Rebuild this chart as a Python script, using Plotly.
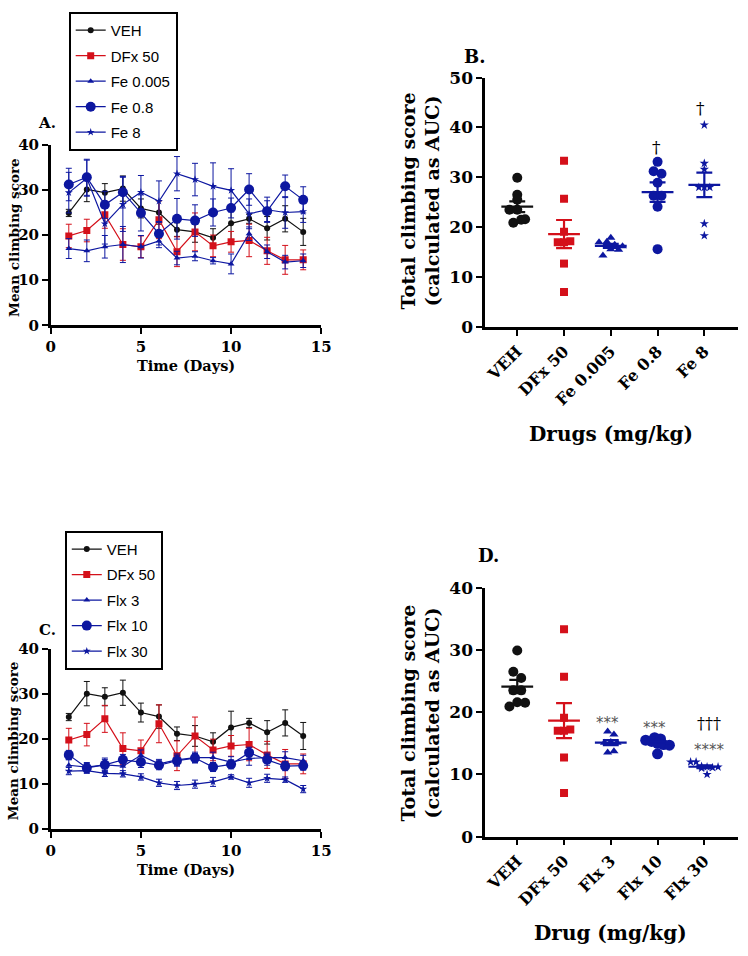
import numpy as np
import plotly.graph_objects as go

# ---------------- DATA ----------------
days = list(range(1, 15))

# Panel A (means and SEM)
A_veh = [24.9, 30.1, 29.4, 30.3, 25.9, 25.0, 21.2, 20.7, 19.4, 22.6, 23.6, 21.5, 23.6, 20.7]
A_veh_err = [0.8, 2.7, 2.0, 2.8, 2.1, 2.6, 1.5, 2.3, 2.0, 3.6, 1.0, 2.6, 2.9, 3.0]
A_dfx = [19.8, 21.0, 24.5, 17.9, 17.4, 23.4, 16.3, 20.7, 17.6, 18.5, 18.8, 16.5, 14.5, 14.5]
A_dfx_err = [2.6, 2.5, 3.0, 3.5, 2.4, 4.2, 3.3, 4.2, 2.4, 2.3, 3.6, 3.0, 3.2, 2.2]
A_fe005 = [17.0, 16.5, 17.4, 17.9, 17.4, 18.7, 14.9, 15.3, 14.3, 13.6, 20.3, 16.3, 14.0, 14.3]
A_fe005_err = [2.2, 2.4, 2.5, 4.0, 2.5, 1.5, 1.5, 1.0, 0.7, 2.2, 1.5, 1.5, 1.5, 1.5]
A_fe08 = [31.2, 32.8, 26.7, 29.5, 24.9, 20.3, 23.6, 23.2, 25.0, 26.0, 30.1, 25.3, 30.8, 27.8]
A_fe08_err = [3.6, 4.0, 3.0, 3.5, 4.0, 2.5, 4.5, 3.5, 3.0, 2.2, 3.5, 2.3, 2.5, 2.9]
A_fe8 = [29.4, 32.6, 22.5, 26.8, 29.5, 27.5, 33.6, 32.3, 30.8, 29.9, 24.7, 25.6, 25.0, 25.2]
A_fe8_err = [4.5, 4.0, 4.5, 6.0, 3.7, 4.5, 3.8, 3.6, 5.2, 4.8, 3.3, 2.8, 3.5, 2.4]

# Panel C (VEH and DFx 50 shared with panel A)
C_flx3 = [14.2, 13.8, 14.3, 14.0, 16.4, 14.5, 15.4, 15.9, 15.9, 14.9, 15.7, 15.9, 15.9, 15.2]
C_flx3_err = [1.2, 1.0, 1.5, 1.5, 1.2, 1.0, 1.3, 1.2, 1.2, 1.2, 1.5, 1.0, 1.3, 1.2]
C_flx10 = [16.5, 13.6, 14.3, 15.4, 14.9, 14.2, 15.2, 15.8, 13.8, 14.4, 17.0, 15.4, 14.0, 14.1]
C_flx10_err = [1.0, 1.0, 1.2, 1.2, 1.2, 1.0, 1.2, 1.0, 1.0, 1.0, 1.2, 1.2, 1.0, 1.0]
C_flx30 = [12.9, 13.0, 12.4, 12.3, 11.6, 10.3, 9.7, 10.0, 10.5, 11.6, 10.3, 11.3, 11.0, 8.9]
C_flx30_err = [0.8, 0.6, 0.7, 0.7, 0.7, 0.8, 0.9, 0.9, 1.0, 0.5, 1.0, 0.9, 0.6, 0.8]

# Panel B (individual AUC values)
B_cats = ["VEH", "DFx 50", "Fe 0.005", "Fe 0.8", "Fe 8"]
B_veh = [29.9, 26.5, 25.5, 23.5, 23.5, 20.9, 21.6, 21.5]
B_dfx = [33.3, 25.7, 19.1, 17.0, 17.0, 17.2, 12.7, 7.0]
B_fe005 = [17.9, 14.3, 17.0, 17.1, 16.5, 15.6, 15.5, 16.2]
B_fe08 = [31.2, 33.1, 30.7, 28.9, 26.3, 26.3, 24.1, 15.6]
B_fe8 = [40.5, 32.8, 31.6, 28.0, 28.0, 28.0, 20.7, 18.3]

# Panel D
D_cats = ["VEH", "DFx 50", "Flx 3", "Flx 10", "Flx 30"]
D_flx3 = [16.9, 16.4, 15.2, 15.1, 15.0, 15.1, 13.5, 13.7]
D_flx10 = [15.9, 15.7, 15.5, 15.3, 15.0, 14.8, 14.7, 13.3]
D_flx30 = [12.0, 12.0, 11.3, 11.2, 11.1, 11.0, 11.2, 10.0]

# ---------------- STYLE ----------------
W, H = 748, 956
BLACK = "#111111"
RED = "#d4101a"
BLUE = "#0d17a0"
SERIF = "DejaVu Serif"
SANS = "Liberation Sans"


def px(x):
    return x / W


def py(y):
    return 1 - y / H


fig = go.Figure()

# ---------- line panels ----------
def add_line(x, y, err, name, color, symbol, size, xa, ya, legend):
    fig.add_trace(go.Scatter(
        x=x, y=y, name=name, mode="lines+markers",
        line=dict(color=color, width=1.2),
        marker=dict(color=color, symbol=symbol, size=size, line=dict(width=0)),
        error_y=dict(type="data", array=err, color=color, thickness=1, width=3),
        xaxis=xa, yaxis=ya, legend=legend, legendgroup=legend + name,
    ))


add_line(days, A_veh, A_veh_err, "VEH", BLACK, "circle", 6, "x", "y", "legend")
add_line(days, A_dfx, A_dfx_err, "DFx 50", RED, "square", 7, "x", "y", "legend")
add_line(days, A_fe005, A_fe005_err, "Fe 0.005", BLUE, "triangle-up", 6, "x", "y", "legend")
add_line(days, A_fe08, A_fe08_err, "Fe 0.8", BLUE, "circle", 10, "x", "y", "legend")
add_line(days, A_fe8, A_fe8_err, "Fe 8", BLUE, "star", 6, "x", "y", "legend")

add_line(days, A_veh, A_veh_err, "VEH", BLACK, "circle", 6, "x3", "y3", "legend2")
add_line(days, A_dfx, A_dfx_err, "DFx 50", RED, "square", 7, "x3", "y3", "legend2")
add_line(days, C_flx3, C_flx3_err, "Flx 3", BLUE, "triangle-up", 6, "x3", "y3", "legend2")
add_line(days, C_flx10, C_flx10_err, "Flx 10", BLUE, "circle", 10, "x3", "y3", "legend2")
add_line(days, C_flx30, C_flx30_err, "Flx 30", BLUE, "star", 6, "x3", "y3", "legend2")

# ---------- scatter panels ----------
XPU = 47.7  # px per category


def swarm(vals, diam, ypu, step=0.8):
    v = np.asarray(vals, dtype=float)
    bins = np.floor(v * ypu / diam)
    off = np.zeros(len(v))
    for b in np.unique(bins):
        idx = np.where(bins == b)[0]
        n = len(idx)
        for j, i in enumerate(idx):
            off[i] = (j - (n - 1) / 2) * diam * step / XPU
    return off


def add_group(pos, vals, color, symbol, size, diam, ypu, xa, ya, step=0.8):
    off = swarm(vals, diam, ypu, step)
    fig.add_trace(go.Scatter(
        x=pos + off, y=vals, mode="markers", showlegend=False,
        marker=dict(color=color, symbol=symbol, size=size, line=dict(width=0)),
        xaxis=xa, yaxis=ya))
    m = float(np.mean(vals))
    se = float(np.std(vals, ddof=1) / np.sqrt(len(vals)))
    hw, cw = 0.34, 0.17
    fig.add_trace(go.Scatter(
        x=[pos - hw, pos + hw, None, pos, pos, None, pos - cw, pos + cw, None, pos - cw, pos + cw],
        y=[m, m, None, m - se, m + se, None, m + se, m + se, None, m - se, m - se],
        mode="lines", line=dict(color=color, width=2.2), showlegend=False,
        hoverinfo="skip", xaxis=xa, yaxis=ya))


YPU_B = 254.7 / 50
YPU_D = 254.3 / 40
add_group(0, B_veh, BLACK, "circle", 10, 10, YPU_B, "x2", "y2")
add_group(1, B_dfx, RED, "square", 8, 8, YPU_B, "x2", "y2")
add_group(2, B_fe005, BLUE, "triangle-up", 8, 8, YPU_B, "x2", "y2", 1.0)
add_group(3, B_fe08, BLUE, "circle", 10, 10, YPU_B, "x2", "y2")
add_group(4, B_fe8, BLUE, "star", 7, 7, YPU_B, "x2", "y2")

add_group(0, B_veh, BLACK, "circle", 10, 10, YPU_D, "x4", "y4")
add_group(1, B_dfx, RED, "square", 8, 8, YPU_D, "x4", "y4")
add_group(2, D_flx3, BLUE, "triangle-up", 8, 8, YPU_D, "x4", "y4")
add_group(3, D_flx10, BLUE, "circle", 11, 11, YPU_D, "x4", "y4", 0.55)
add_group(4, D_flx30, BLUE, "star", 7, 7, YPU_D, "x4", "y4")

# ---------- axes ----------
tickfont = dict(family=SERIF, size=15, color="black", weight="bold")
common = dict(showline=True, linewidth=2.5, linecolor="black", ticks="outside",
              ticklen=6, tickwidth=2, tickcolor="black", showgrid=False,
              zeroline=False, tickfont=tickfont)

lay = dict(width=W, height=H, margin=dict(l=0, r=0, t=0, b=0),
           paper_bgcolor="white", plot_bgcolor="white", showlegend=True)

lay["xaxis"] = dict(common, domain=[px(46.7), px(322.7)], range=[0, 15],
                    tickvals=[0, 5, 10, 15], anchor="y")
lay["yaxis"] = dict(common, domain=[py(322), py(137.7)], range=[0, 40],
                    tickvals=[0, 10, 20, 30, 40], anchor="x")
lay["xaxis3"] = dict(common, domain=[px(46.7), px(322.7)], range=[0, 15],
                     tickvals=[0, 5, 10, 15], anchor="y3")
lay["yaxis3"] = dict(common, domain=[py(836.7), py(652.7)], range=[0, 40],
                     tickvals=[0, 10, 20, 30, 40], anchor="x3")

cat_font = dict(family=SERIF, size=16, color="black", weight="bold")
big_tick = dict(family=SERIF, size=17, color="black", weight="bold")
lay["xaxis2"] = dict(common, domain=[px(490), 1.0], range=[-0.686, 4.72],
                     tickvals=[0, 1, 2, 3, 4], ticktext=B_cats, tickangle=-45,
                     tickfont=cat_font, anchor="y2")
lay["yaxis2"] = dict(common, domain=[py(323.7), py(69)], range=[0, 50],
                     tickvals=[0, 10, 20, 30, 40, 50], anchor="x2", tickfont=big_tick)
lay["xaxis4"] = dict(common, domain=[px(490), 1.0], range=[-0.686, 4.72],
                     tickvals=[0, 1, 2, 3, 4], ticktext=D_cats, tickangle=-45,
                     tickfont=cat_font, anchor="y4")
lay["yaxis4"] = dict(common, domain=[py(844.3), py(590)], range=[0, 40],
                     tickvals=[0, 10, 20, 30, 40], anchor="x4", tickfont=big_tick)

legfont = dict(family=SANS, size=15, color="black")
lay["legend"] = dict(x=px(65), y=py(2), xanchor="left", yanchor="top",
                     bordercolor="black", borderwidth=2, bgcolor="white",
                     font=legfont, traceorder="grouped", tracegroupgap=3)
lay["legend2"] = dict(x=px(61), y=py(532), xanchor="left", yanchor="top",
                      bordercolor="black", borderwidth=2, bgcolor="white",
                      font=legfont, traceorder="grouped", tracegroupgap=3)

fig.update_layout(**lay)

# ---------- text annotations ----------
def note(text, x, y, size, angle=0, family=SERIF, bold=True, color="black"):
    fig.add_annotation(text=text, x=px(x), y=py(y), xref="paper", yref="paper",
                       showarrow=False, textangle=angle, xanchor="center", yanchor="middle",
                       font=dict(family=family, size=size, color=color,
                                 weight="bold" if bold else "normal"))


note("A.", 43, 115, 15)
note("B.", 479, 47, 18)
note("C.", 43, 633, 15)
note("D.", 493, 557, 18)

note("Mean climbing score", 9, 232, 13.5, -90)
note("Time (Days)", 185, 363, 14.5)
note("Mean climbing score", 9, 746, 13.5, -90)
note("Time (Days)", 185, 878, 14.5)

note("Total climbing score<br>(calculated as AUC)", 424, 195, 19, -90)
note("Drugs (mg/kg)", 618, 433, 20)
note("Total climbing score<br>(calculated as AUC)", 424, 718, 19, -90)
note("Drug (mg/kg)", 618, 943, 20)

# significance marks (data coordinates)
def mark(text, x, y, xa, ya, size=15, color="black", family=SERIF):
    fig.add_annotation(text=text, x=x, y=y, xref=xa, yref=ya, showarrow=False,
                       font=dict(family=family, size=size, color=color))


mark("†", 2.97, 36.1, "x2", "y2", 17)
mark("†", 3.92, 43.8, "x2", "y2", 17)
mark("***", 1.93, 18.3, "x4", "y4", 15, "#555555", "DejaVu Sans")
mark("***", 2.93, 17.4, "x4", "y4", 15, "#555555", "DejaVu Sans")
mark("†††", 4.1, 18.2, "x4", "y4", 16)
mark("****", 4.1, 13.9, "x4", "y4", 15, "#555555", "DejaVu Sans")

fig.write_html("out.html", config={"displayModeBar": False},
               post_script="document.body.style.margin='0';document.body.style.overflow='hidden';")
